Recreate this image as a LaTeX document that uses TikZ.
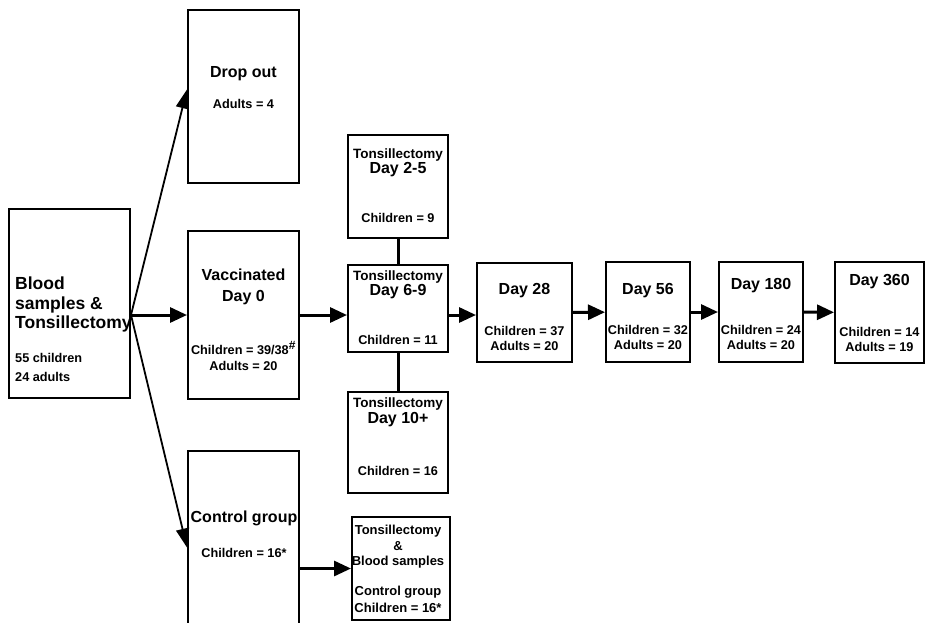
\documentclass[tikz,border=0pt]{standalone}
\usepackage{fontspec}
\setmainfont{Liberation Sans}
\usetikzlibrary{arrows.meta}

\newcommand{\bigtxt}{\fontsize{16}{16}\selectfont}
\newcommand{\midtxt}{\fontsize{13.5}{16}\selectfont}

\tikzset{
  box/.style={draw, line width=2pt, inner sep=0pt},
  txt/.style={font=\fontsize{12.7}{16}\selectfont\bfseries, align=center, inner sep=0pt, anchor=north},
  arr/.style={line width=3pt, -{Triangle[length=17pt, width=15pt]}},
  diag/.style={line width=1.8pt, -{Triangle[length=19pt, width=13pt]}},
  link/.style={line width=3pt}
}

\begin{document}
\begin{tikzpicture}[x=1pt, y=-1pt]
\useasboundingbox (0,0) rectangle (927,622);
% boxes
\node[box, minimum width=121pt, minimum height=189pt] (blood) at (69.5,303.5) {};
\node[box, minimum width=111pt, minimum height=173pt] (drop) at (243.5,96.5) {};
\node[box, minimum width=111pt, minimum height=168pt] (vacc) at (243.5,315) {};
\node[box, minimum width=111pt, minimum height=177pt] (ctrl) at (243.5,539.5) {};
\node[box, minimum width=100pt, minimum height=103pt] (d25) at (398,186.5) {};
\node[box, minimum width=100pt, minimum height=87pt] (d69) at (398,308.5) {};
\node[box, minimum width=100pt, minimum height=101pt] (d10) at (398,442.5) {};
\node[box, minimum width=98pt, minimum height=103pt] (tb) at (401,568.5) {};
\node[box, minimum width=95pt, minimum height=99pt] (d28) at (524.5,312.5) {};
\node[box, minimum width=84pt, minimum height=100pt] (d56) at (648,312) {};
\node[box, minimum width=84pt, minimum height=100pt] (d180) at (761,312) {};
\node[box, minimum width=89pt, minimum height=101pt] (d360) at (879.5,312.5) {};

% texts
\node[txt, anchor=north west, align=left, font=\fontsize{12.7}{19}\selectfont\bfseries] (bloodtxt) at (15,277)
  {{\fontsize{17.5}{19.5}\selectfont Blood}\\[0.5pt]{\fontsize{17.5}{19.5}\selectfont samples \&}\\[0.5pt]{\fontsize{17.5}{19.5}\selectfont Tonsillectomy}\\[15pt]55 children\\24 adults};
\node[txt] (droptxt) at (243.5,66) {{\bigtxt Drop out}\\[15pt]Adults = 4};
\node[txt] (vacctxt) at (243.5,268.5)
  {{\bigtxt Vaccinated}\\[5pt]{\bigtxt Day 0}\\[37pt]Children = 39/38\textsuperscript{\large\#}\\Adults = 20};
\node[txt] (ctrltxt) at (244,511) {{\bigtxt Control group}\\[19pt]Children = 16*};
\node[txt] (d25txt) at (398,149) {{\midtxt Tonsillectomy}\\[-1pt]{\bigtxt Day 2-5}\\[33pt]Children = 9};
\node[txt] (d69txt) at (398,271) {{\midtxt Tonsillectomy}\\[-1pt]{\bigtxt Day 6-9}\\[33pt]Children = 11};
\node[txt] (d10txt) at (398,398) {{\midtxt Tonsillectomy}\\[0pt]{\bigtxt Day 10+}\\[36pt]Children = 16};
\node[txt, font=\fontsize{13}{16}\selectfont\bfseries] (tbtxt) at (398,525)
  {Tonsillectomy\\\&\\[-1pt]Blood samples\\[14pt]Control group\\[1pt]Children = 16*};
\node[txt] (d28txt) at (524.5,283) {{\bigtxt Day 28}\\[25pt]Children = 37\\[-1pt]Adults = 20};
\node[txt] (d56txt) at (648,283) {{\bigtxt Day 56}\\[24pt]Children = 32\\[-1pt]Adults = 20};
\node[txt] (d180txt) at (761,278) {{\bigtxt Day 180}\\[29pt]Children = 24\\[-1pt]Adults = 20};
\node[txt] (d360txt) at (879.5,274) {{\bigtxt Day 360}\\[35pt]Children = 14\\[-1pt]Adults = 19};

% connectors
\draw[arr] (blood.east |- vacc.west) -- (vacc.west);
\draw[diag] (blood.east |- vacc.west) -- ([yshift=7pt]drop.west);
\draw[diag] (blood.east |- vacc.west) -- ([yshift=-8pt]ctrl.west);
\draw[arr] (vacc.east) -- (d69.west |- vacc.east);
\draw[link] (d25) -- (d69);
\draw[link] (d69) -- (d10);
\draw[arr] (d69.east |- vacc.east) -- (d28.west |- vacc.east);
\draw[arr] (d28) -- (d56);
\draw[arr] (d56) -- (d180);
\draw[arr] (d180) -- (d360);
\draw[arr] (ctrl.east |- tb.west) -- (tb.west);
\end{tikzpicture}
\end{document}
